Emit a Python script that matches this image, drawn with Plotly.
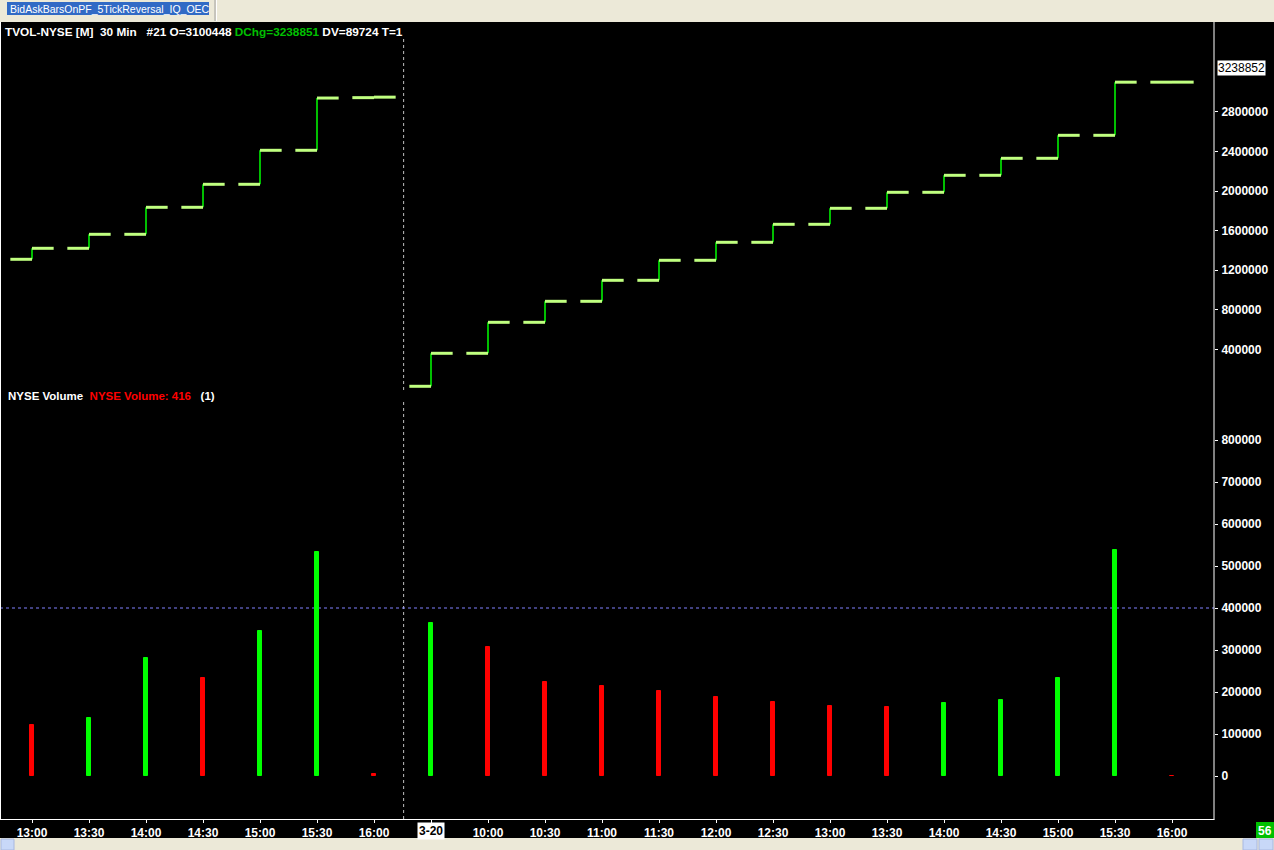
import plotly.graph_objects as go

# ---------------- data ----------------
labels = ["13:00", "13:30", "14:00", "14:30", "15:00", "15:30", "16:00",
          "3-20", "10:00", "10:30", "11:00", "11:30", "12:00", "12:30",
          "13:00", "13:30", "14:00", "14:30", "15:00", "15:30", "16:00"]

tvol_open = [1309800, 1421000, 1562500, 1835500, 2068000, 2411700, 2944000,
             26000, 359600, 672900, 885200, 1097500, 1299700, 1481700,
             1663600, 1825400, 1987100, 2159000, 2330800, 2563300, 3100448]
tvol_close = [1421000, 1562500, 1835500, 2068000, 2411700, 2940000, 2949000,
              359600, 672900, 885200, 1097500, 1299700, 1481700, 1663600,
              1825400, 1987100, 2159000, 2330800, 2563300, 3100448, 3100864]

volume = [121000, 138000, 281000, 233000, 345000, 533000, 5000,
          364000, 307000, 224000, 214000, 202000, 188000, 176000,
          167000, 164000, 174000, 181000, 233000, 538000, 416]
vol_up = [False, True, True, False, True, True, False,
          True, False, False, False, False, False, False,
          False, False, True, True, True, True, False]

top_ticks = [400000, 800000, 1200000, 1600000, 2000000, 2400000, 2800000]
vol_ticks = [0, 100000, 200000, 300000, 400000, 500000, 600000, 700000, 800000]
last_marker = 3238852
crosshair_vol = 400000
session_break = 6.52

# ---------------- layout geometry ----------------
W, H = 1274, 850
L, R, T, B = 0, 60, 22, 31
PW, PH = W - L - R, H - T - B


def px(x):
    return (x - L) / PW


def py(y):
    return (H - B - y) / PH


FONT = "Liberation Sans, Arial, sans-serif"
x = list(range(len(labels)))
half = 0.38

tick_x, tick_y, vert_x, vert_y = [], [], [], []
for i, (o, c) in enumerate(zip(tvol_open, tvol_close)):
    tick_x += [i - half, i, None, i, i + half, None]
    tick_y += [o, o, None, c, c, None]
    vert_x += [i, i, None]
    vert_y += [o, c, None]

vol_colors = ["#00ff00" if u else "#ff0000" for u in vol_up]

fig = go.Figure()
fig.add_trace(go.Scatter(x=vert_x, y=vert_y, mode="lines",
                         line=dict(color="#00ff00", width=1.5),
                         xaxis="x", yaxis="y", showlegend=False, hoverinfo="skip"))
fig.add_trace(go.Scatter(x=tick_x, y=tick_y, mode="lines",
                         line=dict(color="#c0ff80", width=3),
                         xaxis="x", yaxis="y", showlegend=False, hoverinfo="skip"))
fig.add_trace(go.Bar(x=x, y=volume, width=0.053,
                     marker=dict(color=vol_colors, line=dict(color=vol_colors, width=1)),
                     xaxis="x2", yaxis="y2", showlegend=False))

xr = [-32 / 57, (PW - 32) / 57]
top_dom = [(H - B - 390) / PH, 1]
bot_dom = [0, (H - B - 402) / PH]

axis_font = dict(family=FONT, size=12, color="white", weight="bold")
tick_text = [("" if lab == "3-20" else lab) for lab in labels]

fig.update_layout(
    width=W, height=H,
    margin=dict(l=L, r=R, t=T, b=B, autoexpand=False),
    paper_bgcolor="black", plot_bgcolor="black",
    bargap=0, showlegend=False,
    xaxis=dict(domain=[0, 1], anchor="y", range=xr, showticklabels=False,
               showgrid=False, zeroline=False, ticks="", fixedrange=True),
    yaxis=dict(domain=top_dom, anchor="x", side="right",
               range=[-11400, 3708700], tickvals=top_ticks,
               ticktext=[str(v) for v in top_ticks], ticks="outside", ticklen=3,
               tickcolor="white", tickfont=axis_font, showgrid=False,
               zeroline=False, ticklabelstandoff=1),
    xaxis2=dict(domain=[0, 1], anchor="y2", range=xr, tickvals=x,
                ticktext=tick_text, ticks="outside", ticklen=3, tickcolor="white",
                tickfont=axis_font, showgrid=False, zeroline=False, tickangle=0,
                ticklabelstandoff=0),
    yaxis2=dict(domain=bot_dom, anchor="x2", side="right",
                range=[-102381, 890476], tickvals=vol_ticks,
                ticktext=[str(v) for v in vol_ticks], ticks="outside", ticklen=3,
                tickcolor="white", tickfont=axis_font, showgrid=False,
                zeroline=False, ticklabelstandoff=1),
)

shapes = [
    # window strips
    dict(type="rect", xref="paper", yref="paper", x0=px(0), x1=px(W), y0=py(0), y1=py(22),
         fillcolor="#ece9d8", line=dict(width=0), layer="above"),
    dict(type="rect", xref="paper", yref="paper", x0=px(7), x1=px(209), y0=py(2), y1=py(15),
         fillcolor="#316ac5", line=dict(width=0), layer="above"),
    dict(type="line", xref="paper", yref="paper", x0=px(215), x1=px(215), y0=py(0), y1=py(21),
         line=dict(color="#a0a0a0", width=1), layer="above"),
    dict(type="line", xref="paper", yref="paper", x0=px(216.5), x1=px(216.5), y0=py(0), y1=py(21),
         line=dict(color="#ffffff", width=1), layer="above"),
    dict(type="rect", xref="paper", yref="paper", x0=px(0), x1=px(W), y0=py(838), y1=py(H),
         fillcolor="#ece9d8", line=dict(width=0), layer="above"),
    dict(type="rect", xref="paper", yref="paper", x0=px(1), x1=px(14), y0=py(839), y1=py(850),
         fillcolor="#c8d8f8", line=dict(color="#a8b8e0", width=1), layer="above"),
    dict(type="rect", xref="paper", yref="paper", x0=px(1243), x1=px(1257), y0=py(839), y1=py(850),
         fillcolor="#c8d8f8", line=dict(color="#a8b8e0", width=1), layer="above"),
    dict(type="rect", xref="paper", yref="paper", x0=px(1259), x1=px(1273), y0=py(839), y1=py(850),
         fillcolor="#c8d8f8", line=dict(color="#a8b8e0", width=1), layer="above"),
    dict(type="rect", xref="paper", yref="paper", x0=px(1256), x1=px(W), y0=py(822), y1=py(838),
         fillcolor="#00c000", line=dict(width=0), layer="above"),
    # chart frame
    dict(type="line", xref="paper", yref="paper", x0=px(0.5), x1=px(0.5), y0=py(22), y1=py(819),
         line=dict(color="white", width=1), layer="above"),
    dict(type="line", xref="paper", yref="paper", x0=px(1214), x1=px(1214), y0=py(22), y1=py(819.5),
         line=dict(color="white", width=1), layer="above"),
    dict(type="line", xref="paper", yref="paper", x0=px(0), x1=px(1214.5), y0=py(819.5), y1=py(819.5),
         line=dict(color="white", width=1), layer="above"),
    # session separator (dotted), starting below the header text
    dict(type="line", xref="x", yref="y domain", x0=session_break, x1=session_break,
         y0=0, y1=(390 - 39) / (390 - 22),
         line=dict(color="#c0c0c0", width=1, dash="dot"), layer="below"),
    dict(type="line", xref="x2", yref="y2 domain", x0=session_break, x1=session_break, y0=0, y1=1,
         line=dict(color="#c0c0c0", width=1, dash="dot"), layer="below"),
    # horizontal crosshair in volume pane
    dict(type="line", xref="x2 domain", yref="y2", x0=0, x1=1, y0=crosshair_vol, y1=crosshair_vol,
         line=dict(color="#8080ff", width=1, dash="dot"), layer="below"),
]
fig.update_layout(shapes=shapes)

annotations = [
    dict(xref="paper", yref="paper", x=px(8), y=py(8.5), xanchor="left", yanchor="middle",
         text="BidAskBarsOnPF_5TickReversal_IQ_OEC", showarrow=False,
         font=dict(family=FONT, size=10.5, color="white")),
    dict(xref="paper", yref="paper", x=px(3), y=py(31.5), xanchor="left", yanchor="middle",
         text="TVOL-NYSE [M]  30 Min   #21 O=3100448 "
              "<span style='color:#00c000'>DChg=3238851</span> DV=89724 T=1",
         showarrow=False, font=dict(family=FONT, size=11.8, color="white", weight="bold")),
    dict(xref="paper", yref="paper", x=px(6), y=py(395.5), xanchor="left", yanchor="middle",
         text="NYSE Volume  <span style='color:#ff0000'>NYSE Volume: 416</span>   (1)",
         showarrow=False, font=dict(family=FONT, size=11.5, color="white", weight="bold")),
    dict(xref="paper", yref="y", x=px(1217), y=last_marker, xanchor="left", yanchor="middle",
         text=str(last_marker), showarrow=False, bgcolor="white", borderpad=0,
         font=dict(family=FONT, size=12, color="black")),
    dict(xref="x2", yref="paper", x=7, y=py(830.5), xanchor="center", yanchor="middle",
         text="3-20", showarrow=False, bgcolor="white", borderpad=1,
         font=dict(family=FONT, size=12, color="black", weight="bold")),
    dict(xref="paper", yref="paper", x=px(1265), y=py(830.5), xanchor="center", yanchor="middle",
         text="56", showarrow=False,
         font=dict(family=FONT, size=12, color="white", weight="bold")),
]
fig.update_layout(annotations=annotations)

fig.write_html("out.html", config={"displayModeBar": False},
               post_script="document.body.style.margin='0';document.body.style.padding='0';")
